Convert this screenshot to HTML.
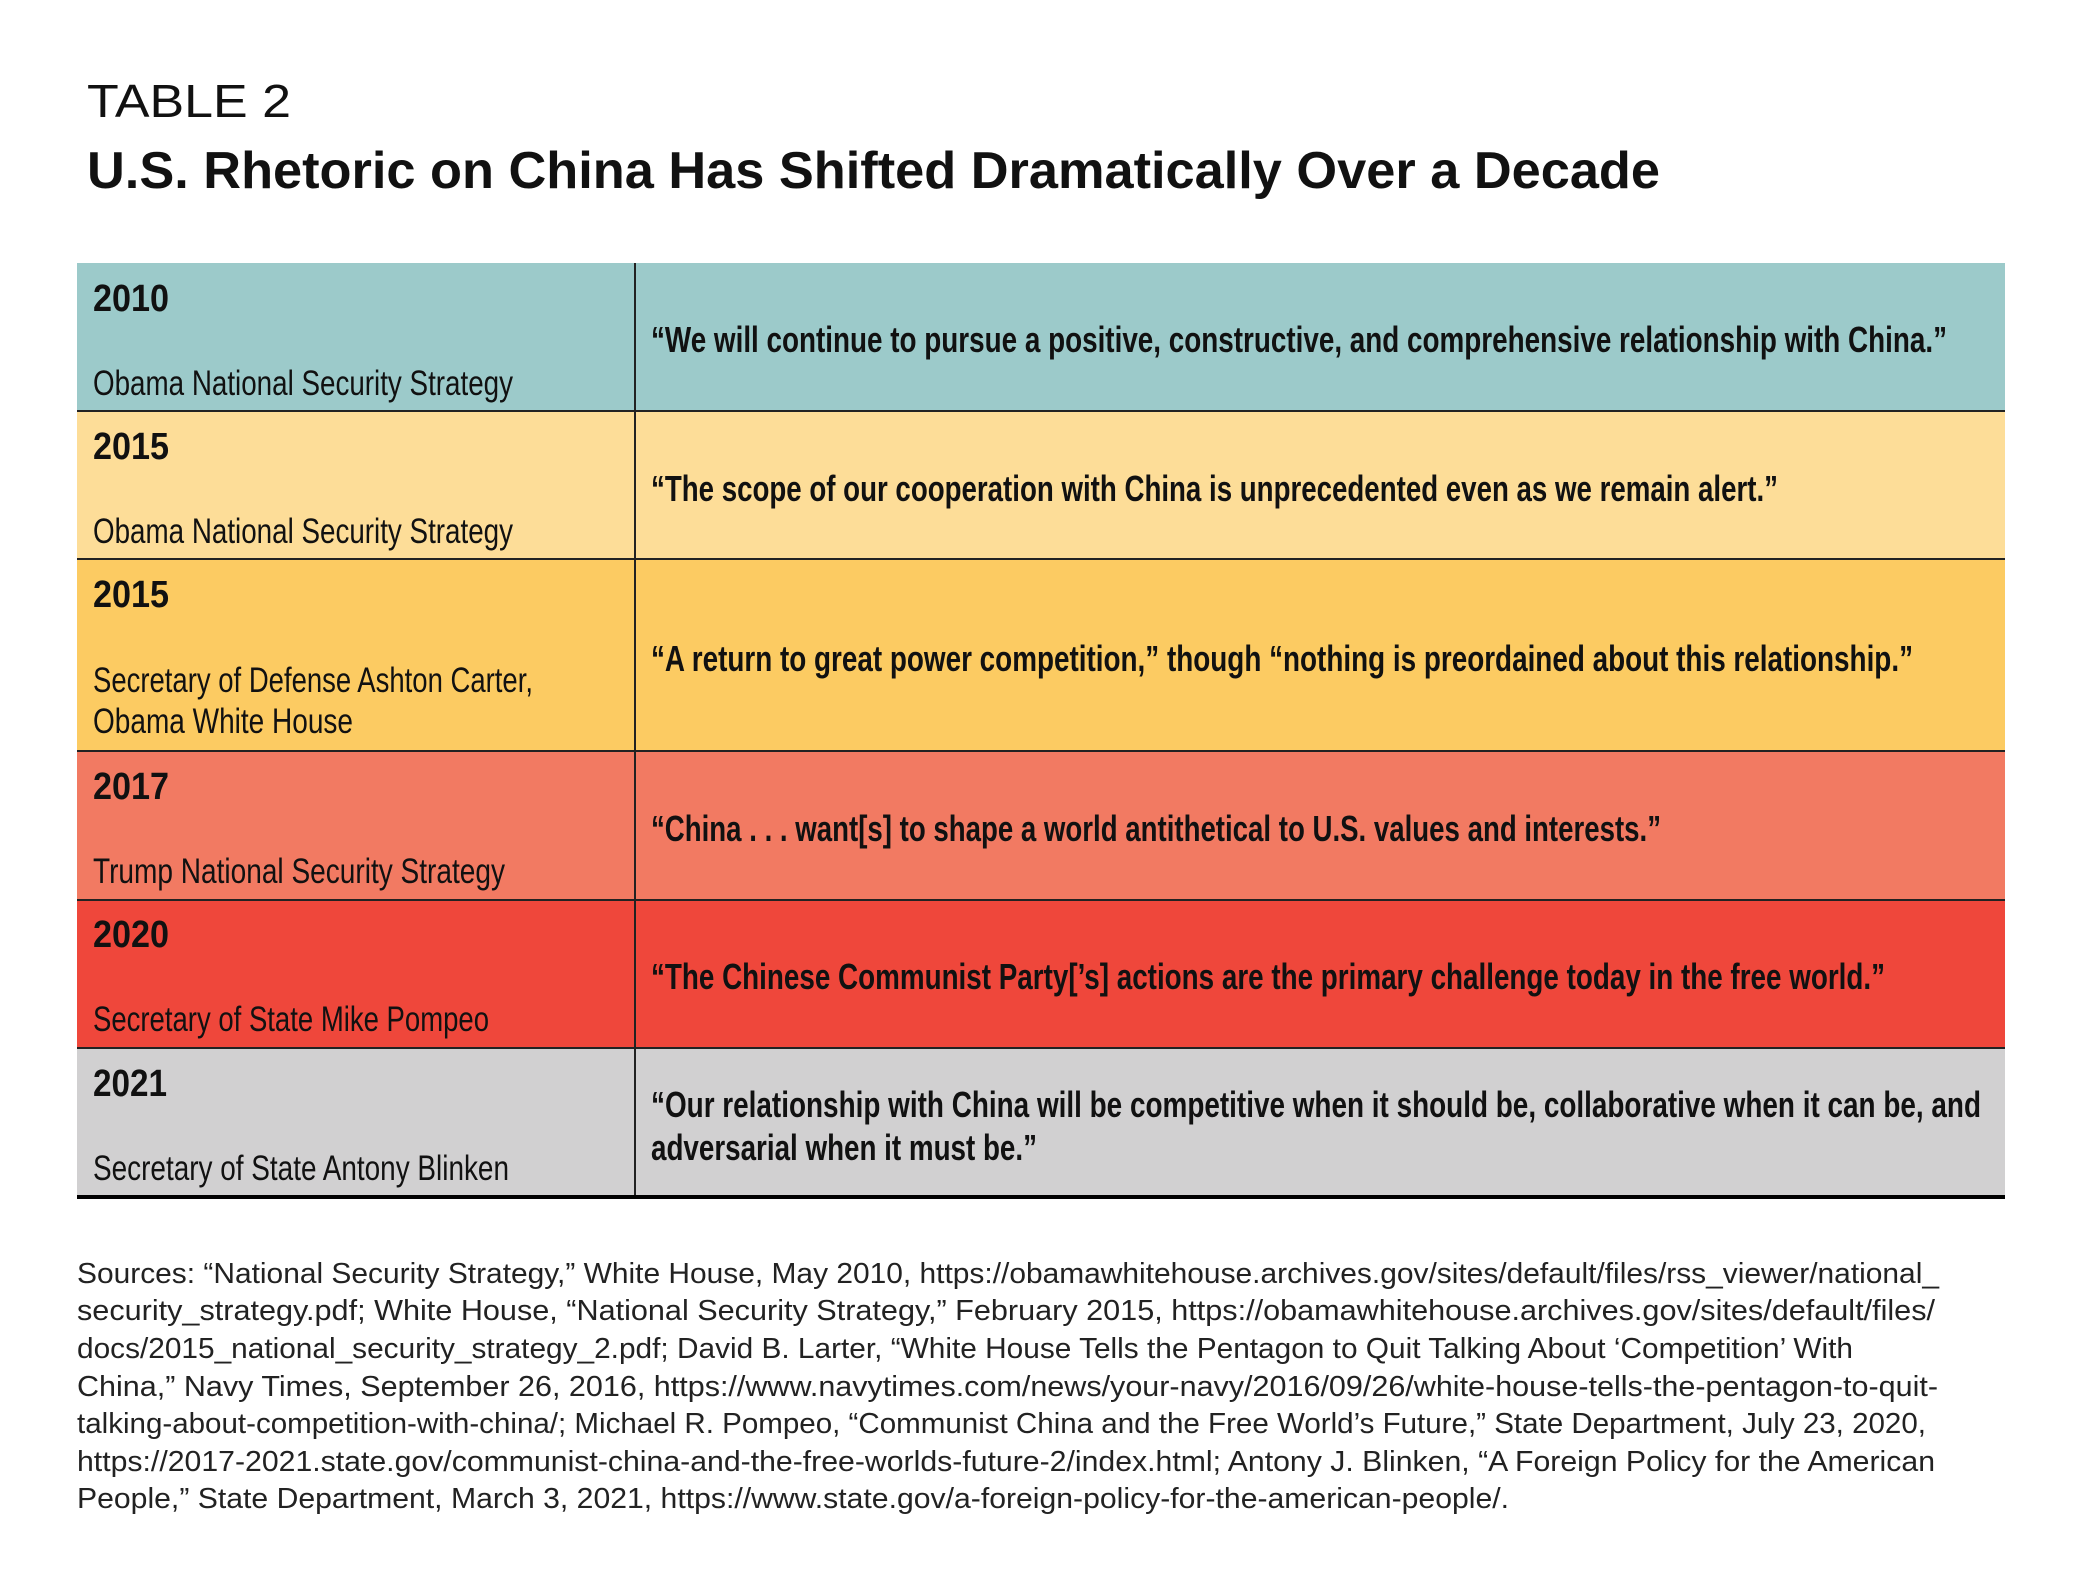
<!DOCTYPE html>
<html><head><meta charset="utf-8"><style>
html,body{margin:0;padding:0;background:#fff;}
svg{display:block}
.y{font-family:"Liberation Sans Narrow","Liberation Sans",sans-serif;font-weight:bold;font-size:38px;fill:#111}
.s{font-family:"Liberation Sans Narrow","Liberation Sans",sans-serif;font-size:35px;fill:#111}
.q{font-family:"Liberation Sans Narrow","Liberation Sans",sans-serif;font-weight:bold;font-size:36px;fill:#111}
.f{font-family:"Liberation Sans",sans-serif;font-size:29px;fill:#222}
</style></head><body>
<svg width="2084" height="1596" viewBox="0 0 2084 1596" xmlns="http://www.w3.org/2000/svg">
<text x="87" y="117" font-family="Liberation Sans, sans-serif" font-size="46" fill="#111" textLength="204" lengthAdjust="spacingAndGlyphs">TABLE 2</text>
<text x="87" y="188" font-family="Liberation Sans, sans-serif" font-size="52" font-weight="bold" fill="#111" textLength="1573" lengthAdjust="spacingAndGlyphs">U.S. Rhetoric on China Has Shifted Dramatically Over a Decade</text>

<rect x="77" y="263" width="1928" height="148" fill="#9ccaca"/>
<rect x="77" y="411" width="1928" height="148" fill="#fddd98"/>
<rect x="77" y="559" width="1928" height="192" fill="#fccb62"/>
<rect x="77" y="751" width="1928" height="149" fill="#f27a62"/>
<rect x="77" y="900" width="1928" height="148" fill="#ef473b"/>
<rect x="77" y="1048" width="1928" height="148" fill="#d1d0d1"/>
<g stroke="#222" stroke-width="2">
<line x1="77" y1="411" x2="2005" y2="411"/>
<line x1="77" y1="559" x2="2005" y2="559"/>
<line x1="77" y1="751" x2="2005" y2="751"/>
<line x1="77" y1="900" x2="2005" y2="900"/>
<line x1="77" y1="1048" x2="2005" y2="1048"/>
<line x1="635" y1="263" x2="635" y2="1196"/>
</g>
<rect x="77" y="1195" width="1928" height="4" fill="#000"/>

<text class="y" x="93" y="311" textLength="76" lengthAdjust="spacingAndGlyphs">2010</text>
<text class="y" x="93" y="459" textLength="76" lengthAdjust="spacingAndGlyphs">2015</text>
<text class="y" x="93" y="607" textLength="76" lengthAdjust="spacingAndGlyphs">2015</text>
<text class="y" x="93" y="799" textLength="76" lengthAdjust="spacingAndGlyphs">2017</text>
<text class="y" x="93" y="947" textLength="76" lengthAdjust="spacingAndGlyphs">2020</text>
<text class="y" x="93" y="1096" textLength="74" lengthAdjust="spacingAndGlyphs">2021</text>

<text class="s" x="93" y="395" textLength="420" lengthAdjust="spacingAndGlyphs">Obama National Security Strategy</text>
<text class="s" x="93" y="543" textLength="420" lengthAdjust="spacingAndGlyphs">Obama National Security Strategy</text>
<text class="s" x="93" y="692" textLength="440" lengthAdjust="spacingAndGlyphs">Secretary of Defense Ashton Carter,</text>
<text class="s" x="93" y="733" textLength="260" lengthAdjust="spacingAndGlyphs">Obama White House</text>
<text class="s" x="93" y="883" textLength="412" lengthAdjust="spacingAndGlyphs">Trump National Security Strategy</text>
<text class="s" x="93" y="1031" textLength="396" lengthAdjust="spacingAndGlyphs">Secretary of State Mike Pompeo</text>
<text class="s" x="93" y="1180" textLength="416" lengthAdjust="spacingAndGlyphs">Secretary of State Antony Blinken</text>

<text class="q" x="651" y="352" textLength="1296" lengthAdjust="spacingAndGlyphs">“We will continue to pursue a positive, constructive, and comprehensive relationship with China.”</text>
<text class="q" x="651" y="501" textLength="1127" lengthAdjust="spacingAndGlyphs">“The scope of our cooperation with China is unprecedented even as we remain alert.”</text>
<text class="q" x="651" y="671" textLength="1262" lengthAdjust="spacingAndGlyphs">“A return to great power competition,” though “nothing is preordained about this relationship.”</text>
<text class="q" x="651" y="841" textLength="1010" lengthAdjust="spacingAndGlyphs">“China . . . want[s] to shape a world antithetical to U.S. values and interests.”</text>
<text class="q" x="651" y="989" textLength="1234" lengthAdjust="spacingAndGlyphs">“The Chinese Communist Party[’s] actions are the primary challenge today in the free world.”</text>
<text class="q" x="651" y="1117" textLength="1330" lengthAdjust="spacingAndGlyphs">“Our relationship with China will be competitive when it should be, collaborative when it can be, and</text>
<text class="q" x="651" y="1160" textLength="386" lengthAdjust="spacingAndGlyphs">adversarial when it must be.”</text>

<text class="f" x="77" y="1283" textLength="1862" lengthAdjust="spacingAndGlyphs">Sources: “National Security Strategy,” White House, May 2010, https://obamawhitehouse.archives.gov/sites/default/files/rss_viewer/national_</text>
<text class="f" x="77" y="1320" textLength="1858" lengthAdjust="spacingAndGlyphs">security_strategy.pdf; White House, “National Security Strategy,” February 2015, https://obamawhitehouse.archives.gov/sites/default/files/</text>
<text class="f" x="77" y="1358" textLength="1776" lengthAdjust="spacingAndGlyphs">docs/2015_national_security_strategy_2.pdf; David B. Larter, “White House Tells the Pentagon to Quit Talking About ‘Competition’ With</text>
<text class="f" x="77" y="1396" textLength="1861" lengthAdjust="spacingAndGlyphs">China,” Navy Times, September 26, 2016, https://www.navytimes.com/news/your-navy/2016/09/26/white-house-tells-the-pentagon-to-quit-</text>
<text class="f" x="77" y="1433" textLength="1849" lengthAdjust="spacingAndGlyphs">talking-about-competition-with-china/; Michael R. Pompeo, “Communist China and the Free World’s Future,” State Department, July 23, 2020,</text>
<text class="f" x="77" y="1471" textLength="1858" lengthAdjust="spacingAndGlyphs">https://2017-2021.state.gov/communist-china-and-the-free-worlds-future-2/index.html; Antony J. Blinken, “A Foreign Policy for the American</text>
<text class="f" x="77" y="1508" textLength="1432" lengthAdjust="spacingAndGlyphs">People,” State Department, March 3, 2021, https://www.state.gov/a-foreign-policy-for-the-american-people/.</text>
</svg>
</body></html>
